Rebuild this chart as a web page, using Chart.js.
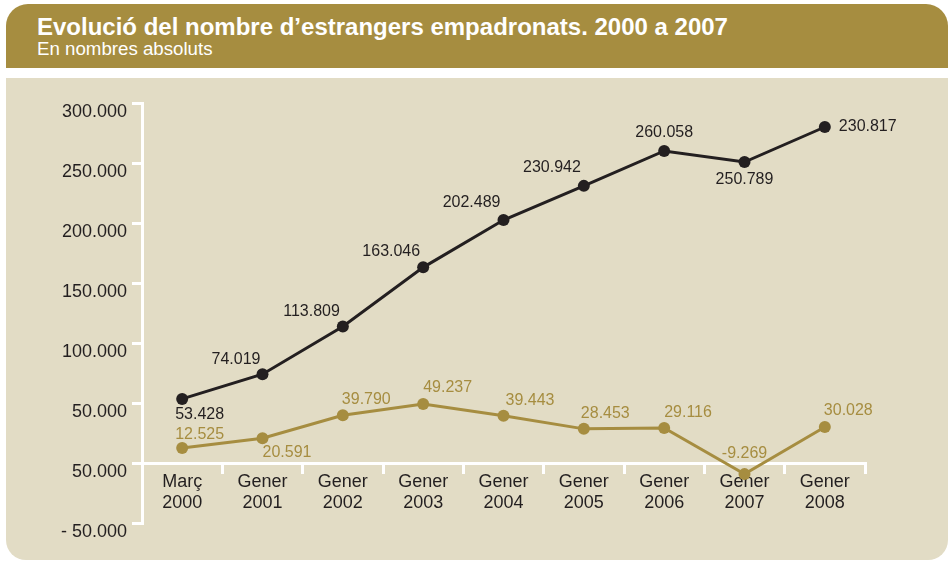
<!DOCTYPE html>
<html>
<head>
<meta charset="utf-8">
<script src="https://cdn.jsdelivr.net/npm/chart.js@4"></script>
<style>
  body {
    margin: 0;
    width: 949px;
    height: 562px;
    position: relative;
    overflow: hidden;
    background: #fff;
    font-family: "Liberation Sans", Arial, sans-serif;
  }
  .header {
    position: absolute;
    left: 6px;
    top: 4px;
    width: 942px;
    height: 64px;
    background: #a68d40;
    border-radius: 22px 22px 0 0;
  }
  .header h1 {
    position: absolute;
    left: 31px;
    top: 11px;
    margin: 0;
    font-size: 24px;
    line-height: 24px;
    font-weight: bold;
    color: #fff;
    white-space: nowrap;
  }
  .header p {
    position: absolute;
    left: 31px;
    top: 35px;
    margin: 0;
    font-size: 18.7px;
    line-height: 19px;
    color: #fff;
    white-space: nowrap;
  }
  .panel {
    position: absolute;
    left: 6px;
    top: 78px;
    width: 942px;
    height: 482px;
    background: #e2dcc5;
    border-radius: 0 0 20px 20px;
  }
  #chart {
    position: absolute;
    left: 0;
    top: 0;
  }
</style>
</head>
<body>
<div class="header">
  <h1>Evolució del nombre d’estrangers empadronats. 2000 a 2007</h1>
  <p>En nombres absoluts</p>
</div>
<div class="panel"></div>
<canvas id="chart" width="949" height="562"></canvas>

<script>
// Data
const categories = [
    ['Març', '2000'], ['Gener', '2001'], ['Gener', '2002'], ['Gener', '2003'], ['Gener', '2004'],
    ['Gener', '2005'], ['Gener', '2006'], ['Gener', '2007'], ['Gener', '2008']
];
const totalValues = [53428, 74019, 113809, 163046, 202489, 230942, 260058, 250789, 280000];
const totalLabels = ['53.428', '74.019', '113.809', '163.046', '202.489', '230.942', '260.058', '250.789', '230.817'];
const changeValues = [12525, 20591, 39790, 49237, 39443, 28453, 29116, -9269, 30028];
const changeLabels = ['12.525', '20.591', '39.790', '49.237', '39.443', '28.453', '29.116', '-9.269', '30.028'];
const yTickLabels = ['- 50.000', '50.000', '50.000', '100.000', '150.000', '200.000', '250.000', '300.000'];

const FONT = '"Liberation Sans", Arial, sans-serif';
const DARK = '#231f20';
const GOLD = '#a68d40';

// where each value label sits next to its point: [align, dx, dy]
const totalPlacement = [
    ['left', -7, 16], ['right', -2, -15], ['right', -3, -15], ['right', -3, -16], ['right', -3, -17],
    ['right', -3, -18], ['center', 0, -18], ['center', 0, 18], ['left', 14, 0]
];
const changePlacement = [
    ['left', -7, -13], ['left', 0, 14], ['left', -1, -16], ['left', 0, -16], ['left', 2, -15],
    ['left', -3, -15], ['left', 0, -15], ['center', 0, -21], ['left', -1, -16]
];

const pointLabels = {
    id: 'pointLabels',
    afterDatasetsDraw(chart) {
        const ctx = chart.ctx;
        ctx.save();
        ctx.font = '16px ' + FONT;
        ctx.textBaseline = 'middle';
        chart.data.datasets.forEach((ds, i) => {
            const meta = chart.getDatasetMeta(i);
            const place = i === 0 ? totalPlacement : changePlacement;
            const texts = i === 0 ? totalLabels : changeLabels;
            ctx.fillStyle = ds.borderColor;
            meta.data.forEach((pt, j) => {
                const [align, dx, dy] = place[j];
                ctx.textAlign = align;
                ctx.fillText(texts[j], pt.x + dx, pt.y + dy);
            });
        });
        ctx.restore();
    }
};

const ctx = document.getElementById('chart').getContext('2d');
const chart = new Chart(ctx, {
    type: 'line',
    data: {
        labels: categories,
        datasets: [{
            data: totalValues,
            borderColor: DARK,
            backgroundColor: DARK,
            borderWidth: 3,
            pointRadius: 6,
            pointBorderWidth: 0,
            pointBackgroundColor: DARK,
            tension: 0
        }, {
            data: changeValues,
            borderColor: GOLD,
            backgroundColor: GOLD,
            borderWidth: 3,
            pointRadius: 6,
            pointBorderWidth: 0,
            pointBackgroundColor: GOLD,
            tension: 0
        }]
    },
    options: {
        responsive: false,
        animation: false,
        layout: {
            padding: { left: 0, top: 103, right: 84, bottom: 39 }
        },
        plugins: {
            legend: { display: false },
            tooltip: { enabled: false }
        },
        scales: {
            x: {
                position: { y: 0 },
                offset: true,
                grid: {
                    offset: true,
                    drawOnChartArea: false,
                    tickLength: 9,
                    color: '#fff',
                    lineWidth: 3
                },
                border: { color: '#fff', width: 3 },
                ticks: {
                    color: DARK,
                    font: { family: FONT, size: 18, lineHeight: 1.2 },
                    padding: -1,
                    maxRotation: 0,
                    autoSkip: false
                }
            },
            y: {
                min: -50000,
                max: 300000,
                afterFit(scale) {
                    scale.width = 142;
                },
                grid: {
                    drawOnChartArea: false,
                    tickLength: 10,
                    color: '#fff',
                    lineWidth: 3
                },
                border: { color: '#fff', width: 3 },
                ticks: {
                    stepSize: 50000,
                    color: DARK,
                    font: { family: FONT, size: 18 },
                    padding: 5,
                    labelOffset: 9,
                    callback: (value, index) => yTickLabels[index]
                }
            }
        }
    },
    plugins: [pointLabels]
});
</script>
</body>
</html>
